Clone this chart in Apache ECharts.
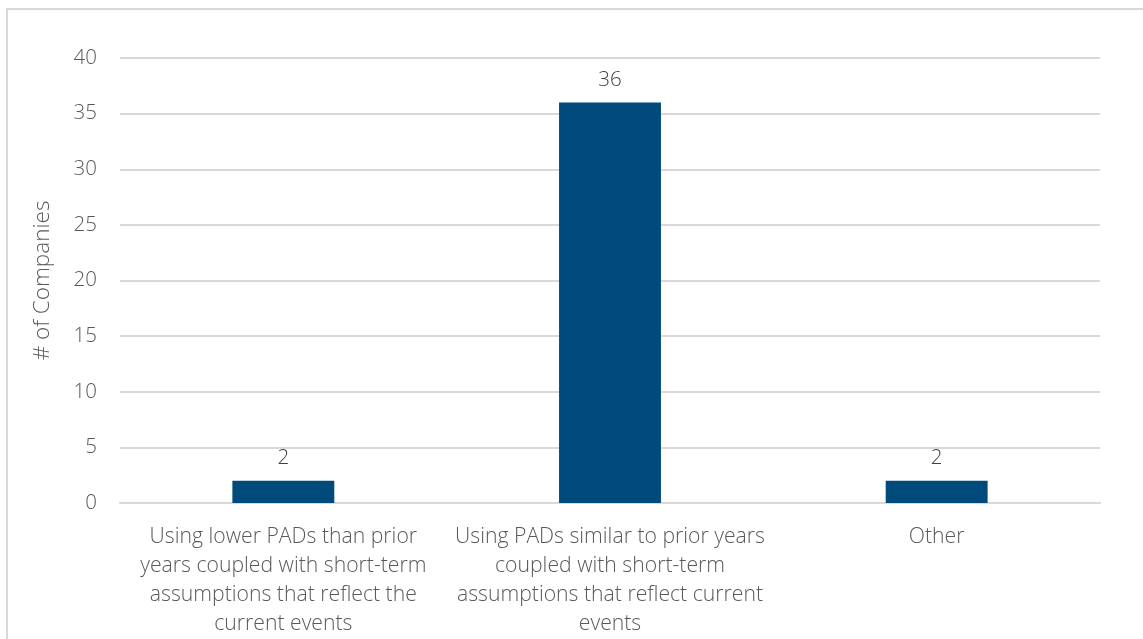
<!DOCTYPE html>
<html>
<head>
<meta charset="utf-8">
<script src="https://cdn.jsdelivr.net/npm/echarts@6/dist/echarts.min.js"></script>
<style>
html,body{margin:0;padding:0;background:#fff;overflow:hidden;}
#frame{position:absolute;left:6px;top:8px;width:1160px;height:660px;border:2px solid #d9d9d9;box-sizing:border-box;}
#chart{position:absolute;left:0;top:0;width:1143px;height:639px;}
</style>
</head>
<body>
<div id="frame"></div>
<div id="chart"></div>
<script>
const categories = [
  "Using lower PADs than prior\nyears coupled with short-term\nassumptions that reflect the\ncurrent events",
  "Using PADs similar to prior years\ncoupled with short-term\nassumptions that reflect current\nevents",
  "Other"
];
const companies = [2, 36, 2];
const yTicks = { min: 0, max: 40, interval: 5 };

const chart = echarts.init(document.getElementById('chart'), null, { renderer: 'canvas' });
const font = '"Open Sans", "Noto Sans", sans-serif';
chart.setOption({
  animation: false,
  grid: { left: 120, right: 43, top: 58, bottom: 136, containLabel: false },
  xAxis: {
    type: 'category',
    data: categories,
    axisTick: { show: false },
    axisLine: { show: true, lineStyle: { color: '#d9d9d9', width: 2 } },
    axisLabel: { color: '#595959', fontFamily: font, fontWeight: 300, fontSize: 21.2, lineHeight: 29, margin: 19, interval: 0 }
  },
  yAxis: {
    type: 'value',
    min: yTicks.min, max: yTicks.max, interval: yTicks.interval,
    name: '# of Companies',
    nameLocation: 'middle',
    nameGap: 66,
    nameRotate: 90,
    nameTextStyle: { color: '#595959', fontFamily: font, fontWeight: 300, fontSize: 22.5 },
    axisLine: { show: false },
    axisTick: { show: false },
    axisLabel: { color: '#595959', fontFamily: font, fontWeight: 300, fontSize: 20.5, margin: 23 },
    splitLine: { lineStyle: { color: '#d9d9d9', width: 2 } }
  },
  series: [{
    type: 'bar',
    data: companies,
    barWidth: '31.2%',
    itemStyle: { color: '#004b7b' },
    label: { show: true, position: 'top', distance: 12, color: '#404040', fontFamily: font, fontWeight: 300, fontSize: 20.5 }
  }]
});
</script>
</body>
</html>
